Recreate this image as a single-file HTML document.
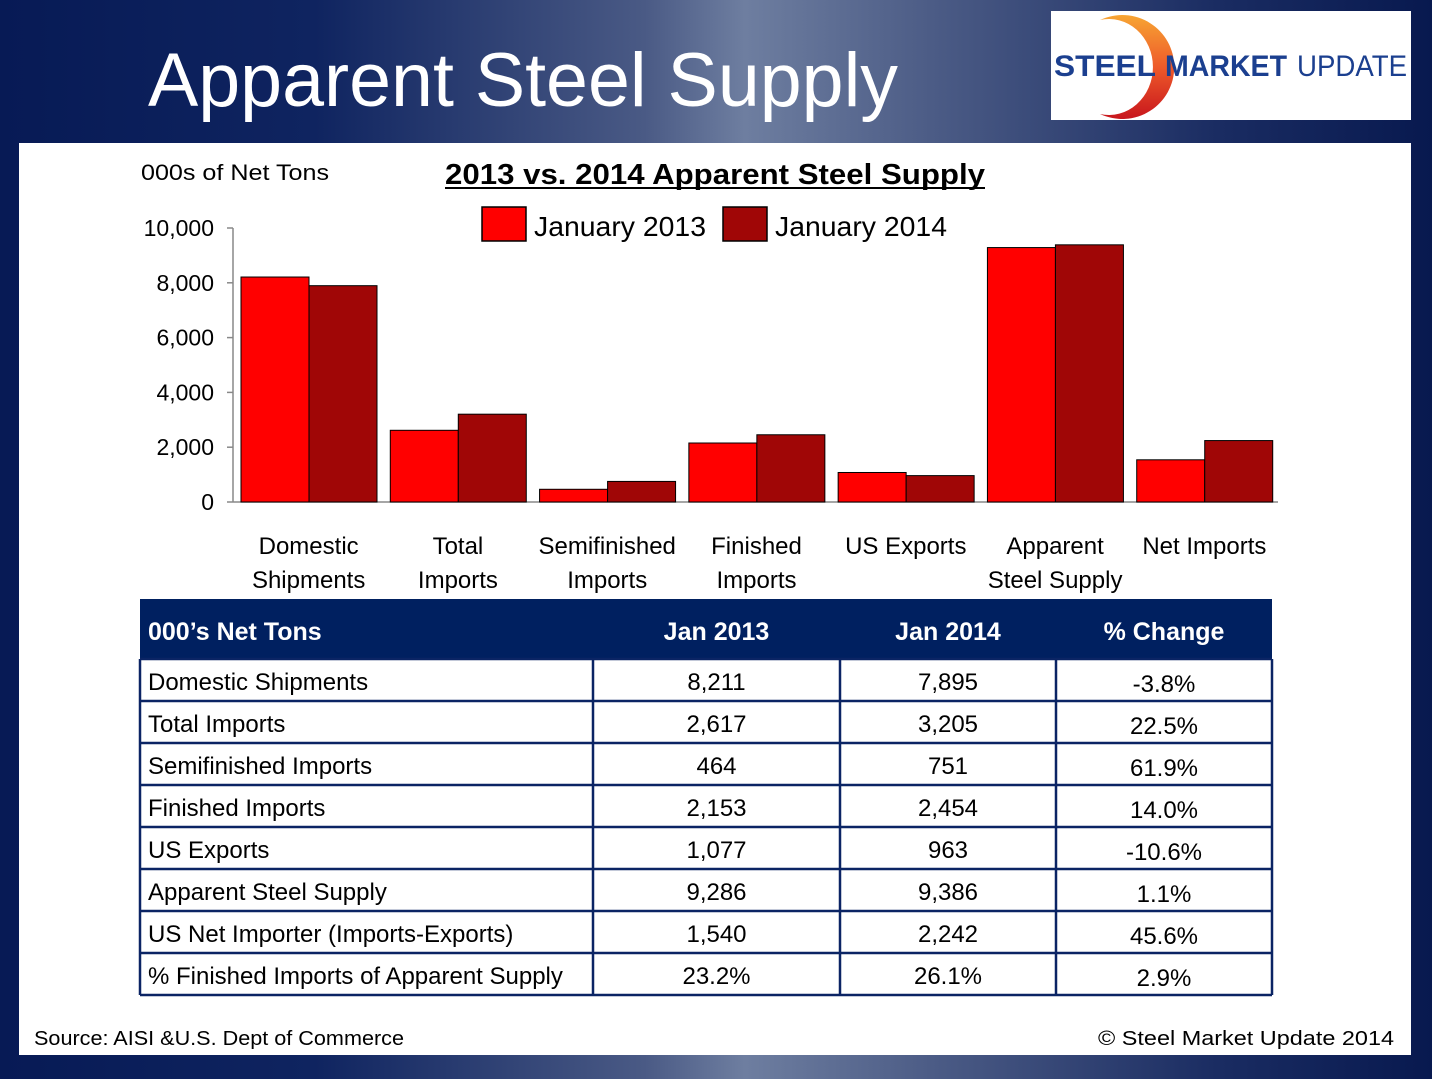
<!DOCTYPE html>
<html><head><meta charset="utf-8"><style>
html,body{margin:0;padding:0;width:1432px;height:1079px;overflow:hidden;}
body{background:linear-gradient(90deg,#071a55 0%,#0f2460 22%,#4a5a85 45%,#6e7ea0 52%,#4c5c86 65%,#1a2c62 85%,#08194f 100%);font-family:"Liberation Sans",sans-serif;}
svg{position:absolute;left:0;top:0;}
</style></head><body>
<svg id="chart" width="1432" height="1079" xmlns="http://www.w3.org/2000/svg">
<defs>
<linearGradient id="arc" x1="0" y1="0" x2="0" y2="1"><stop offset="0" stop-color="#f7a533"/><stop offset="0.5" stop-color="#ee5a2a"/><stop offset="1" stop-color="#c8161d"/></linearGradient>
</defs>
<text x="148" y="106" font-size="76" fill="#fff" textLength="750" lengthAdjust="spacingAndGlyphs">Apparent Steel Supply</text>
<g>
<rect x="1051" y="11" width="360" height="109" fill="#fff"/>
<path d="M1100 20 A52 52 0 1 1 1100 114 A44 48 0 1 0 1100 20 Z" fill="url(#arc)"/>
<text x="1054" y="76" font-size="30" font-weight="bold" fill="#1b3f8f" textLength="102" lengthAdjust="spacingAndGlyphs">STEEL</text>
<text x="1165" y="76" font-size="30" font-weight="bold" fill="#1b3f8f" textLength="122" lengthAdjust="spacingAndGlyphs">MARKET</text>
<text x="1297" y="76" font-size="30" fill="#1b3f8f" textLength="110" lengthAdjust="spacingAndGlyphs">UPDATE</text>
</g>
<rect x="19" y="143" width="1392" height="912" fill="#fff"/>
<text x="141" y="180" font-size="22" fill="#000" textLength="188" lengthAdjust="spacingAndGlyphs">000s of Net Tons</text>
<text x="445" y="184" font-size="29" font-weight="bold" fill="#000" textLength="540" lengthAdjust="spacingAndGlyphs">2013 vs. 2014 Apparent Steel Supply</text>
<line x1="445" y1="188" x2="985" y2="188" stroke="#000" stroke-width="2"/>
<g>
<rect x="482" y="207" width="44" height="34" fill="#ff0000" stroke="#000" stroke-width="1.5"/>
<text x="534" y="236" font-size="28" textLength="172" lengthAdjust="spacingAndGlyphs">January 2013</text>
<rect x="723" y="207" width="44" height="34" fill="#a00606" stroke="#000" stroke-width="1.5"/>
<text x="775" y="236" font-size="28" textLength="172" lengthAdjust="spacingAndGlyphs">January 2014</text>
</g>
<g id="plot"></g>
<g id="tbl"></g>
<text x="34" y="1045" font-size="20" textLength="370" lengthAdjust="spacingAndGlyphs">Source:  AISI &amp;U.S. Dept of Commerce</text>
<text x="1098" y="1045" font-size="20" textLength="296" lengthAdjust="spacingAndGlyphs">©    Steel Market Update 2014</text>
</svg>
<script>
const categories=[["Domestic","Shipments"],["Total","Imports"],["Semifinished","Imports"],["Finished","Imports"],["US Exports"],["Apparent","Steel Supply"],["Net Imports"]];
const jan2013=[8211,2617,464,2153,1077,9286,1540];
const jan2014=[7895,3205,751,2454,963,9386,2242];
const yTicks=[0,2000,4000,6000,8000,10000];
const rowLabels=["Domestic Shipments","Total Imports","Semifinished Imports","Finished Imports","US Exports","Apparent Steel Supply","US Net Importer (Imports-Exports)","% Finished Imports of Apparent Supply"];
const col2013=["8,211","2,617","464","2,153","1,077","9,286","1,540","23.2%"];
const col2014=["7,895","3,205","751","2,454","963","9,386","2,242","26.1%"];
const colChange=["-3.8%","22.5%","61.9%","14.0%","-10.6%","1.1%","45.6%","2.9%"];
const NS="http://www.w3.org/2000/svg";
function mk(tag,attrs,parent,txt){const e=document.createElementNS(NS,tag);for(const k in attrs)e.setAttribute(k,attrs[k]);if(txt!==undefined)e.textContent=txt;parent.appendChild(e);return e;}
const X0=233,X1=1278,Y0=502,Y1=228;
const y=v=>Y0-(v/10000)*(Y0-Y1);
const gw=(X1-X0)/categories.length;
const plot=document.getElementById('plot');
let ax=mk('line',{x1:X0,y1:Y1,x2:X0,y2:Y0,stroke:'#888','stroke-width':1.5},plot);


let bx=mk('line',{x1:X0,y1:Y0,x2:X1,y2:Y0,stroke:'#888','stroke-width':1.5},plot);


yTicks.forEach(t=>{
  mk('line',{x1:X0-6,y1:y(t),x2:X0,y2:y(t),stroke:'#888','stroke-width':1.5},plot);
  const lb=mk('text',{x:214,y:y(t)+8,'font-size':23,'text-anchor':'end'},plot,t.toLocaleString('en-US'));
  
  
});
categories.forEach((c,i)=>{
  const gx=X0+i*gw;
  const b1=mk('rect',{x:gx+8,y:y(jan2013[i]),width:68,height:Y0-y(jan2013[i]),fill:'#ff0000',stroke:'#000','stroke-width':1},plot);
  
  
  const b2=mk('rect',{x:gx+76,y:y(jan2014[i]),width:68,height:Y0-y(jan2014[i]),fill:'#a00606',stroke:'#000','stroke-width':1},plot);
  
  
  c.forEach((ln,j)=>{
    const t=mk('text',{x:gx+gw/2+1,y:554+j*34,'font-size':24,'text-anchor':'middle'},plot,ln);
    
    
  });
});
const tbl=document.getElementById('tbl');
const TX=[140,593,840,1056,1272],TY0=599,HH=60,RH=42;
const hdr=mk('rect',{x:140,y:TY0,width:1132,height:HH,fill:'#002060'},tbl);


const heads=["000’s Net Tons","Jan 2013","Jan 2014","% Change"];
heads.forEach((h,k)=>{
  const t=mk('text',k===0?{x:148,y:640,'font-size':25,'font-weight':'bold',fill:'#fff'}:{x:(TX[k]+TX[k+1])/2,y:640,'font-size':25,'font-weight':'bold',fill:'#fff','text-anchor':'middle'},tbl,h);
  
  
});
const tTop=TY0+HH,tBot=tTop+RH*rowLabels.length;
for(let r=0;r<=rowLabels.length;r++)mk('line',{x1:140,y1:tTop+r*RH,x2:1272,y2:tTop+r*RH,stroke:'#0b2464','stroke-width':2.5},tbl);
TX.forEach(x=>mk('line',{x1:x,y1:tTop,x2:x,y2:tBot,stroke:'#0b2464','stroke-width':2.5},tbl));
rowLabels.forEach((lab,r)=>{
  const yy=tTop+r*RH+31;
  const a=mk('text',{x:148,y:yy,'font-size':24},tbl,lab);
  
  
  [col2013,col2014,colChange].forEach((col,k)=>{
    const t=mk('text',{x:(TX[k+1]+TX[k+2])/2,y:yy+(k===2?2:0),'font-size':24,'text-anchor':'middle'},tbl,col[r]);
    
    
  });
});
</script>
</body></html>
